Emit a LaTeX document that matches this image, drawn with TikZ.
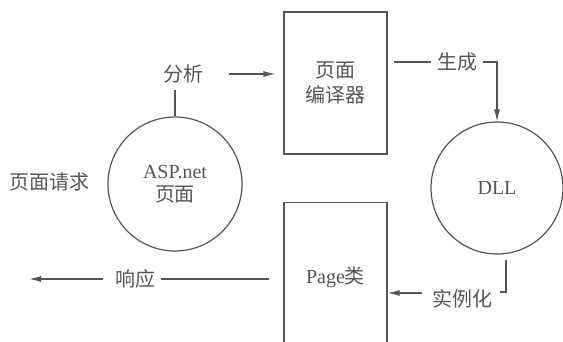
\documentclass[tikz,border=0pt]{standalone}
\usepackage{fontspec}
\setmainfont{Liberation Serif}
\newfontfamily\cjk{Noto Sans CJK SC}
\usetikzlibrary{arrows.meta}
\definecolor{ink}{HTML}{555555}
\tikzset{
  flow/.style   = {draw=ink, line width=0.6pt},
  arr/.style    = {flow, -{Latex[length=6pt,width=3pt]}},
  blob/.style   = {draw=ink, line width=0.6pt, circle, inner sep=0pt, text=ink, align=center},
  box/.style    = {draw=ink, line width=0.6pt, rectangle, inner sep=0pt, text=ink, align=center,
                   minimum width=51.5pt},
  tag/.style    = {text=ink, inner sep=3pt, font=\cjk}
}
\begin{document}
\begin{tikzpicture}[x=0.5pt, y=-0.5pt, font=\fontsize{10}{12.5}\selectfont]
 \useasboundingbox (0,0) rectangle (563,342);
 \clip (0,0) rectangle (563,342);

 % the four main blocks
 \node (asp)[blob, minimum size=67pt] at (175,184) {ASP.net\\[-1pt]{\cjk 页面}};
 \node (comp)[box, minimum height=71pt] at (335.5,83) {{\cjk 页面}\\{\cjk 编译器}};
 \node (dll)[blob, minimum size=66pt] at (497,188) {DLL};
 \node (page)[box, minimum height=75pt] at (335.5,277.5) {Page{\cjk 类}};

 % labels
 \node (fenxi)[tag] at (183,74) {分析};
 \node (sheng)[tag] at (457,62) {生成};
 \node (shili)[tag] at (462,299) {实例化};
 \node (resp)[tag] at (135,279) {响应};
 \node (req)[tag] at (50,182) {页面请求};

 \coordinate (dllout) at (506,260);
 \coordinate (tick) at (500,292);
 \coordinate (back) at (29,278);
 \coordinate (inst) at ([yshift=3pt]shili.west);

 % connectors
 \draw[flow] (asp.north) -- (asp.north |- fenxi.south);
 \draw[arr, shorten <=10pt, shorten >=4pt] (fenxi.east) -- (comp.west |- fenxi.east);
 \draw[flow, shorten <=3pt] (comp.east |- sheng.west) -- (sheng.west);
 \draw[arr] (sheng.east) -| (dll.north);
 \draw[flow] (dllout) |- (tick);
 \draw[arr, shorten <=2pt] (inst) -- (page.east |- inst);
 \draw[flow, shorten <=7pt] (page.west |- resp.east) -- (resp.east);
 \draw[arr, shorten <=3pt] (resp.west) -- (back |- resp.west);

\end{tikzpicture}
\end{document}
